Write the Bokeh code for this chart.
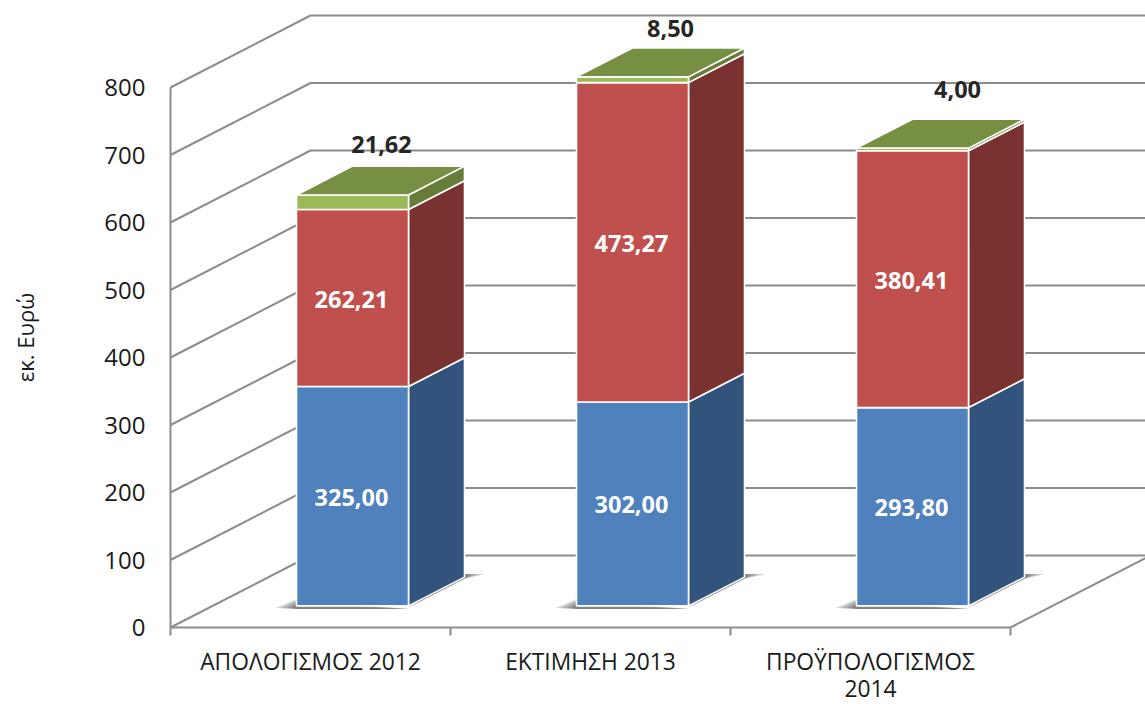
import math
from bokeh.plotting import figure
from bokeh.models import ColumnDataSource, FixedTicker
from bokeh.core.properties import value
from bokeh.embed import file_html
from bokeh.resources import INLINE

# ---- data
categories = ["ΑΠΟΛΟΓΙΣΜΟΣ 2012", "ΕΚΤΙΜΗΣΗ 2013", "ΠΡΟΫΠΟΛΟΓΙΣΜΟΣ\n2014"]
blue_values = [325.00, 302.00, 293.80]
red_values = [262.21, 473.27, 380.41]
green_values = [21.62, 8.50, 4.00]
blue_labels = ["325,00", "302,00", "293,80"]
red_labels = ["262,21", "473,27", "380,41"]
green_labels = ["21,62", "8,50", "4,00"]
y_ticks = [0, 100, 200, 300, 400, 500, 600, 700, 800]
axis_title = "εκ. Ευρώ"

# ---- styling / projection
PX_X, PX_Y = 280.0, 0.675            # px per category, px per value unit
DEPTH_X, DEPTH_Y = 0.5, 72 / PX_Y    # full depth of the floor in data units
BAR_W, BAR_START, BAR_DEPTH = 0.4, 0.30, 0.40
GRID, AXIS = "#8c8c8c", "#8c8c8c"
FRONT = ["#4F81BD", "#C0504D", "#9BBB59"]
SIDE = ["#32547C", "#7A3230", "#667C38"]
TOP = ["#3B6595", "#953735", "#778F43"]
FONT = "Open Sans"
TOP_DX = [29, 38, 45]
TOP_DY = [50, 48, 59]

def proj(x, v, d):
    return x + d * DEPTH_X, v + d * DEPTH_Y

W, H = 1145, 704
p = figure(width=W, height=H, output_backend="svg", toolbar_location=None,
           x_range=(-170 / PX_X, 975 / PX_X), y_range=(-77 / PX_Y, 619 / PX_Y),
           min_border_left=0, min_border_right=0, min_border_top=8, min_border_bottom=0)
p.outline_line_color = None
p.grid.visible = False
p.background_fill_color = "white"

# axes
ax = p.yaxis[0]
ax.fixed_location = 0
ax.ticker = FixedTicker(ticks=y_ticks)
ax.bounds = (0, 800)
ax.major_tick_out = 0; ax.major_tick_in = 0; ax.minor_tick_out = 0; ax.minor_tick_in = 0
ax.axis_line_color = AXIS; ax.axis_line_width = 2
ax.major_label_text_font = FONT; ax.major_label_text_font_size = "24px"
ax.major_label_text_color = "#1a1a1a"; ax.major_label_standoff = 25

p.text([-146 / PX_X], [290 / PX_Y], text=[axis_title], angle=math.pi / 2,
       text_font=value(FONT), text_font_size="22px", text_color="#1a1a1a",
       text_align="center", text_baseline="middle")

bx = p.xaxis[0]
bx.fixed_location = 0
centers = [i + 0.5 for i in range(len(categories))]
bx.ticker = FixedTicker(ticks=centers, minor_ticks=[i for i in range(len(categories) + 1)])
bx.major_label_overrides = dict(zip(centers, categories))
bx.bounds = (0, len(categories))
bx.major_tick_out = 0; bx.major_tick_in = 0; bx.minor_tick_out = 8; bx.minor_tick_in = 0
bx.minor_tick_line_color = AXIS; bx.minor_tick_line_width = 2
bx.axis_line_color = AXIS; bx.axis_line_width = 2
bx.major_label_text_font = FONT; bx.major_label_text_font_size = "22.8px"
bx.major_label_text_color = "#1a1a1a"; bx.major_label_standoff = 10
bx.major_label_text_line_height = 0.88

# wall grid lines
xs, ys = [], []
for t in y_ticks:
    x1, y1 = proj(0, t, 1)
    xs.append([0, x1, 975 / PX_X + 0.05]); ys.append([t, y1, y1])
fx, fy = proj(len(categories), 0, 1)
xs.append([len(categories), fx]); ys.append([0, fy])
p.multi_line(xs, ys, line_color=GRID, line_width=2)

# shadows under the bars (layered translucent wedges)
sx, sy = [], []
for i, c in enumerate(centers):
    l, r = c - BAR_W / 2, c + BAR_W / 2
    for grow in (1.0, 0.75, 0.5, 0.25):
        gx = 21 / PX_X * grow
        gy = 4 / PX_Y
        a = proj(l - gx, -gy * 0.5, BAR_START)
        b = proj(l, 7 * grow / PX_Y, BAR_START)
        c1 = proj(r, -gy * 0.8, BAR_START)
        c2 = proj(l, -gy * 0.8, BAR_START)
        sx.append([a[0], b[0], c1[0], c2[0]]); sy.append([a[1], b[1], c1[1], c2[1]])
        d = proj(r, -gy * 0.4, BAR_START)
        e = proj(r, -gy * 0.4, BAR_START + BAR_DEPTH)
        f = proj(r + gx, 3 / PX_Y, BAR_START + BAR_DEPTH)
        g = proj(r, 3 / PX_Y, BAR_START + BAR_DEPTH)
        sx.append([d[0], e[0], f[0], g[0]]); sy.append([d[1], e[1], f[1], g[1]])
p.patches(sx, sy, fill_color="#333333", fill_alpha=0.2, line_color=None)

# bars
series = [blue_values, red_values, green_values]
for i, c in enumerate(centers):
    l, r = c - BAR_W / 2, c + BAR_W / 2
    base = 0.0
    for s, vals in enumerate(series):
        top = base + vals[i]
        fr = [proj(l, base, BAR_START), proj(r, base, BAR_START), proj(r, top, BAR_START), proj(l, top, BAR_START)]
        sd = [proj(r, base, BAR_START), proj(r, base, BAR_START + BAR_DEPTH),
              proj(r, top, BAR_START + BAR_DEPTH), proj(r, top, BAR_START)]
        p.patch([q[0] for q in sd], [q[1] for q in sd], fill_color=SIDE[s], line_color="white", line_width=1.6)
        p.patch([q[0] for q in fr], [q[1] for q in fr], fill_color=FRONT[s], line_color="white", line_width=1.6)
        base = top
    tp = [proj(l, base, BAR_START), proj(r, base, BAR_START),
          proj(r, base, BAR_START + BAR_DEPTH), proj(l, base, BAR_START + BAR_DEPTH)]
    p.patch([q[0] for q in tp], [q[1] for q in tp], fill_color=TOP[2], line_color="white", line_width=1.6)

# value labels
lx, ly, lt = [], [], []
for i, c in enumerate(centers):
    x0, y0 = proj(c, blue_values[i] / 2, BAR_START)
    x1, y1 = proj(c, blue_values[i] + red_values[i] / 2, BAR_START)
    lx += [x0, x1]; ly += [y0, y1]; lt += [blue_labels[i], red_labels[i]]
p.text(lx, ly, text=lt, text_color="white", text_font=value(FONT), text_font_style="bold",
       text_font_size="23.5px", text_align="center", text_baseline="middle", x_offset=-1, y_offset=1)
tx, ty = [], []
for i, c in enumerate(centers):
    a, b = proj(c, blue_values[i] + red_values[i] + green_values[i], BAR_START)
    tx.append(a); ty.append(b)
src = ColumnDataSource(dict(x=tx, y=ty, t=green_labels, dx=TOP_DX, dy=[-d for d in TOP_DY]))
p.text("x", "y", text="t", source=src, x_offset="dx", y_offset="dy", text_color="#262626",
       text_font=value(FONT), text_font_style="bold", text_font_size="23.5px",
       text_align="center", text_baseline="middle")

open("out.html", "w").write(file_html(p, INLINE))
